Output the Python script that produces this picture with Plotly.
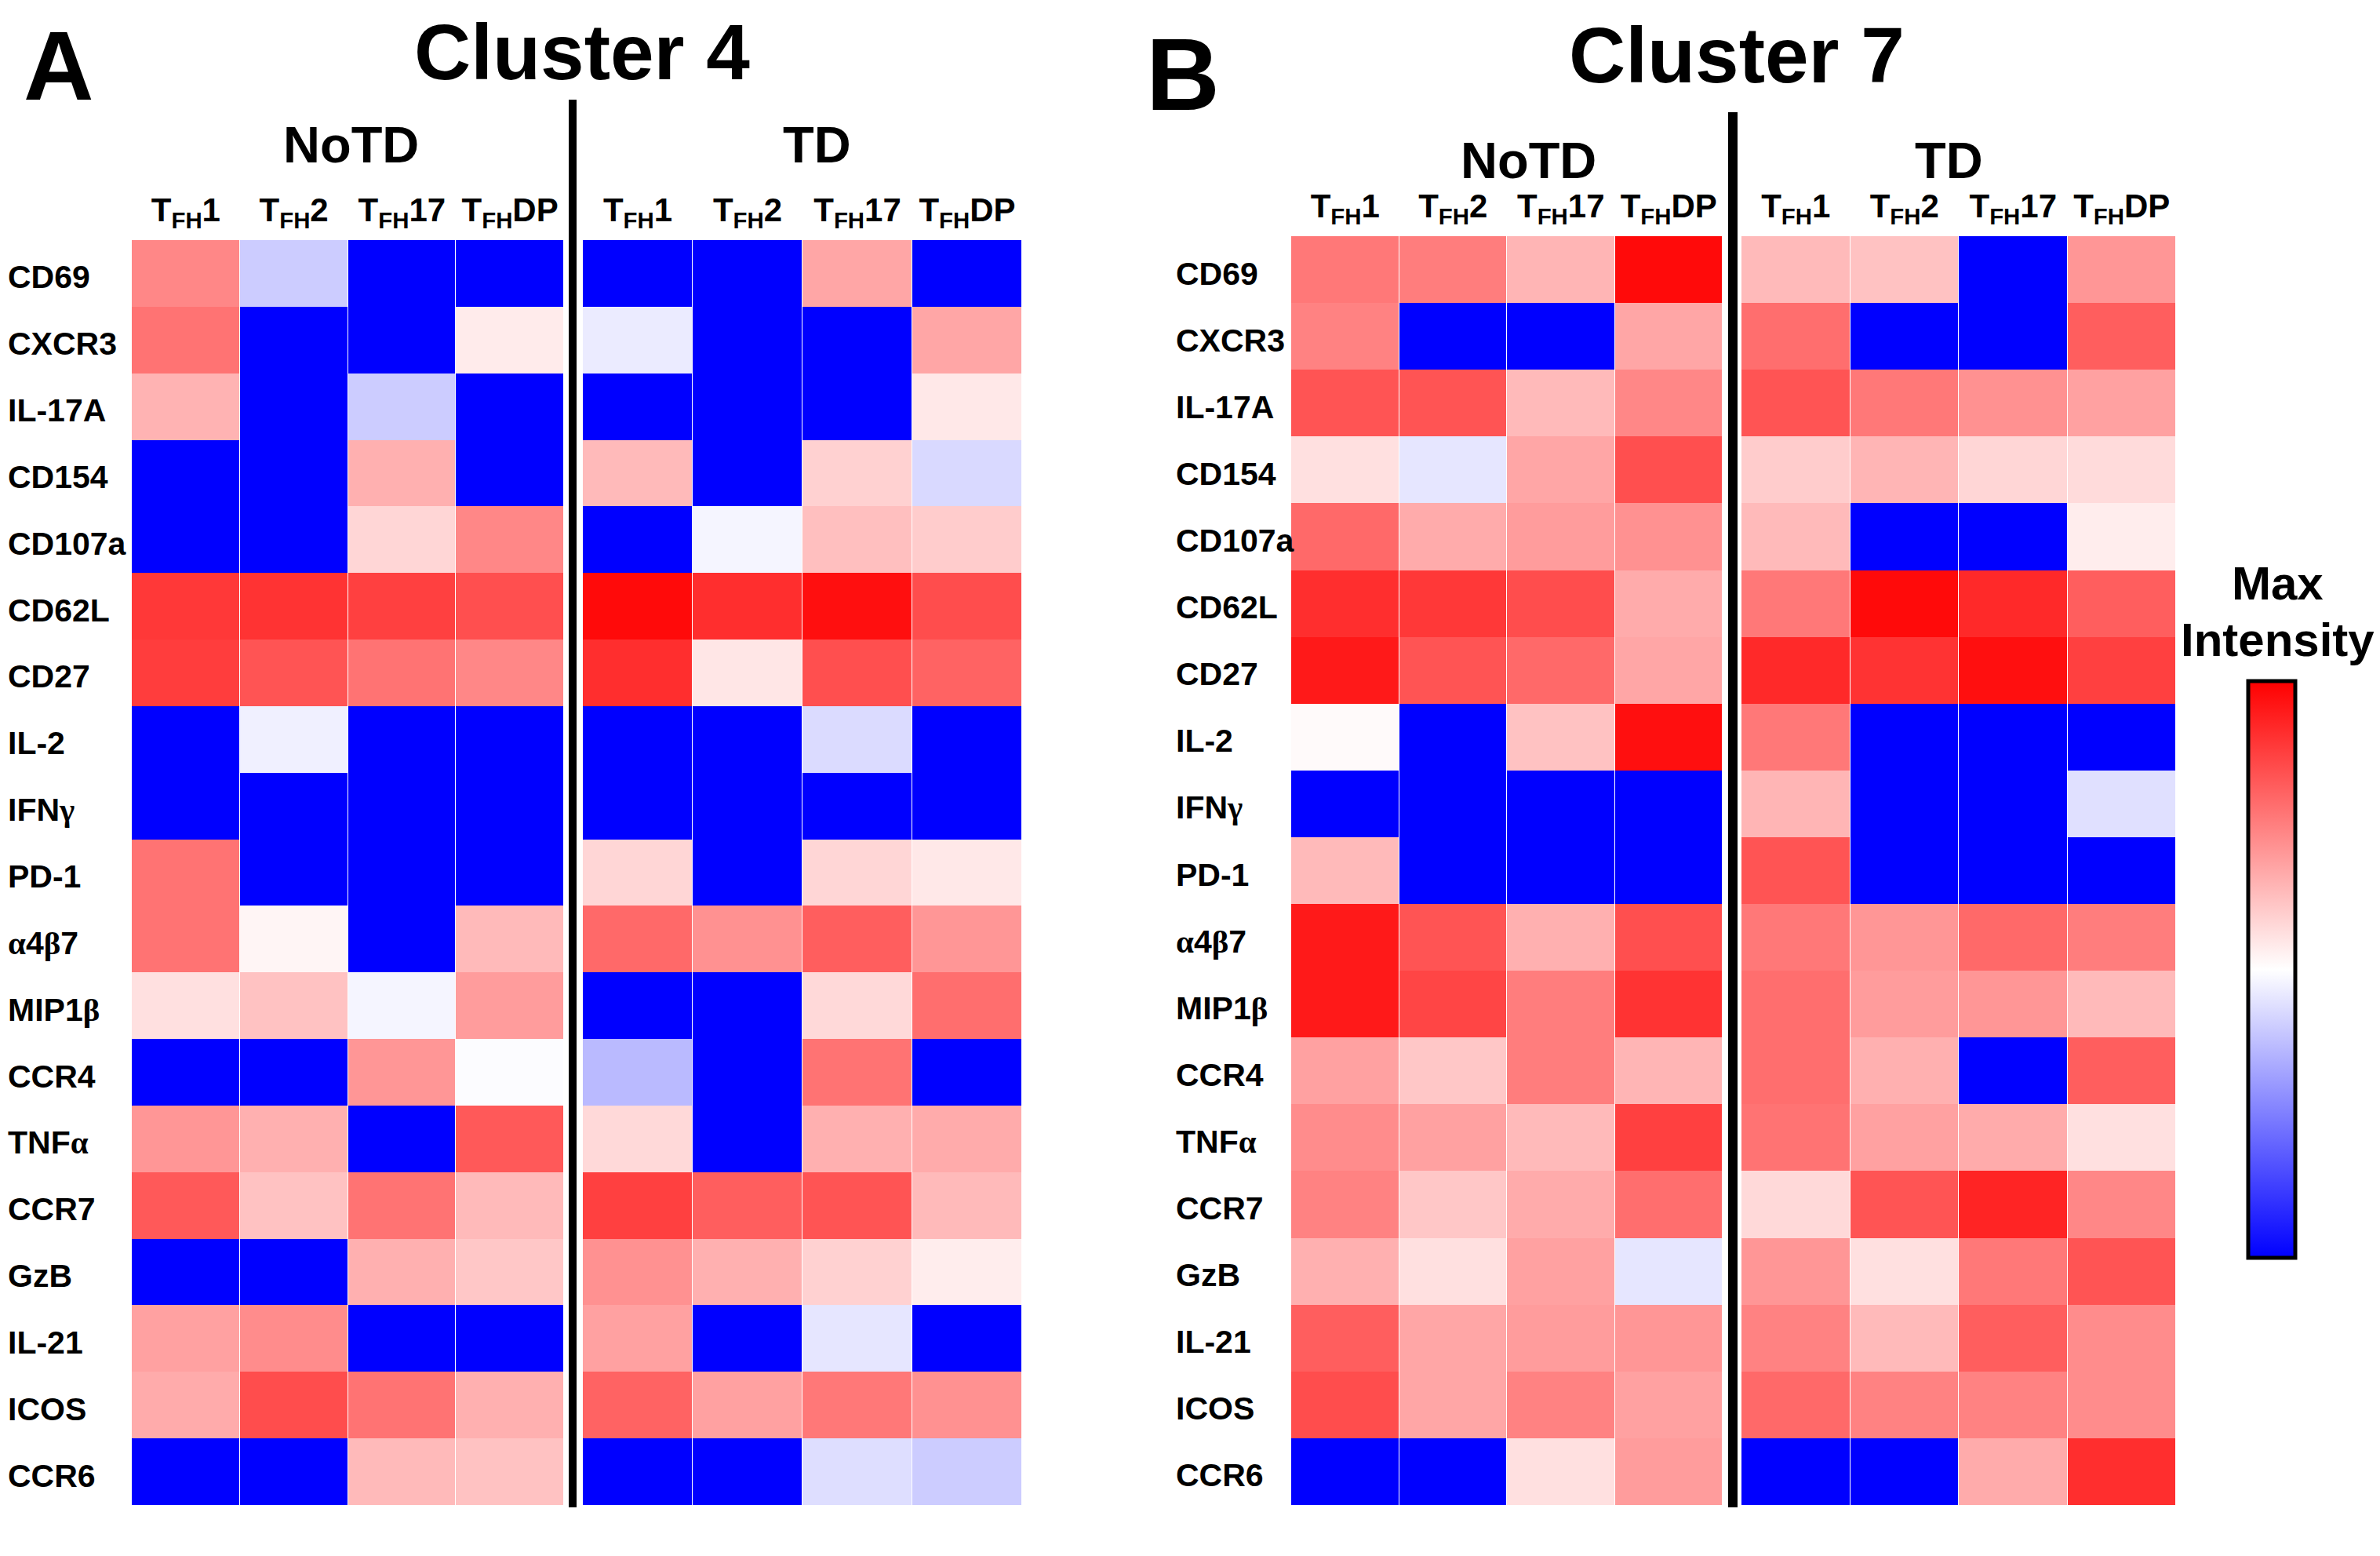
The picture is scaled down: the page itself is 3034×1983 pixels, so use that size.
import plotly.graph_objects as go

# page is 3034 x 1983; the html body adds an 8 px margin
PAGE_W, PAGE_H = 3034, 1983
OFF = 8
W, H = PAGE_W - 2 * OFF, PAGE_H - 2 * OFF

rows = ["CD69", "CXCR3", "IL-17A", "CD154", "CD107a", "CD62L", "CD27", "IL-2",
        "IFNγ", "PD-1", "α4β7", "MIP1β", "CCR4", "TNFα", "CCR7", "GzB",
        "IL-21", "ICOS", "CCR6"]

SERIF = "<span style='font-family:Liberation Serif'>{}</span>"
row_labels = ["CD69", "CXCR3", "IL-17A", "CD154", "CD107a", "CD62L", "CD27", "IL-2",
              "IFN" + SERIF.format("γ"), "PD-1",
              SERIF.format("α") + "4" + SERIF.format("β") + "7",
              "MIP1" + SERIF.format("β"), "CCR4",
              "TNF" + SERIF.format("α"), "CCR7", "GzB",
              "IL-21", "ICOS", "CCR6"]

cols = ["TFH1", "TFH2", "TFH17", "TFHDP"]
col_labels = ["T<sub>FH</sub>1", "T<sub>FH</sub>2", "T<sub>FH</sub>17", "T<sub>FH</sub>DP"]

# Cluster 4 (panel A), relative intensity (-1 = blue, 0 = white, 1 = red)
c4_notd = [
    [0.47, -0.20, -1.00, -1.00],
    [0.55, -1.00, -1.00, 0.08],
    [0.30, -1.00, -0.20, -1.00],
    [-1.00, -1.00, 0.31, -1.00],
    [-1.00, -1.00, 0.16, 0.47],
    [0.78, 0.80, 0.75, 0.69],
    [0.76, 0.67, 0.55, 0.47],
    [-1.00, -0.06, -1.00, -1.00],
    [-1.00, -1.00, -1.00, -1.00],
    [0.55, -1.00, -1.00, -1.00],
    [0.55, 0.04, -1.00, 0.27],
    [0.12, 0.24, -0.04, 0.39],
    [-1.00, -1.00, 0.41, -0.01],
    [0.41, 0.31, -1.00, 0.65],
    [0.65, 0.24, 0.55, 0.27],
    [-1.00, -1.00, 0.31, 0.22],
    [0.37, 0.45, -1.00, -1.00],
    [0.33, 0.70, 0.55, 0.31],
    [-1.00, -1.00, 0.27, 0.24],
]
c4_td = [
    [-1.00, -1.00, 0.35, -1.00],
    [-0.08, -1.00, -1.00, 0.35],
    [-1.00, -1.00, -1.00, 0.09],
    [0.27, -1.00, 0.18, -0.15],
    [-1.00, -0.04, 0.25, 0.20],
    [0.96, 0.82, 0.94, 0.70],
    [0.82, 0.10, 0.69, 0.61],
    [-1.00, -1.00, -0.14, -1.00],
    [-1.00, -1.00, -1.00, -1.00],
    [0.16, -1.00, 0.16, 0.09],
    [0.59, 0.43, 0.63, 0.41],
    [-1.00, -1.00, 0.15, 0.57],
    [-0.27, -1.00, 0.55, -1.00],
    [0.15, -1.00, 0.31, 0.33],
    [0.75, 0.63, 0.67, 0.27],
    [0.43, 0.31, 0.18, 0.07],
    [0.37, -1.00, -0.10, -1.00],
    [0.61, 0.37, 0.53, 0.43],
    [-1.00, -1.00, -0.13, -0.20],
]
# Cluster 7 (panel B)
c7_notd = [
    [0.53, 0.51, 0.29, 0.96],
    [0.49, -1.00, -1.00, 0.35],
    [0.67, 0.67, 0.27, 0.47],
    [0.12, -0.10, 0.35, 0.69],
    [0.59, 0.33, 0.39, 0.43],
    [0.82, 0.78, 0.70, 0.33],
    [0.90, 0.67, 0.59, 0.35],
    [0.02, -1.00, 0.24, 0.94],
    [-1.00, -1.00, -1.00, -1.00],
    [0.27, -1.00, -1.00, -1.00],
    [0.90, 0.67, 0.31, 0.69],
    [0.90, 0.73, 0.51, 0.80],
    [0.37, 0.22, 0.51, 0.29],
    [0.45, 0.37, 0.27, 0.75],
    [0.49, 0.22, 0.33, 0.57],
    [0.31, 0.12, 0.37, -0.10],
    [0.63, 0.35, 0.39, 0.41],
    [0.70, 0.35, 0.49, 0.37],
    [-1.00, -1.00, 0.12, 0.39],
]
c7_td = [
    [0.27, 0.24, -1.00, 0.41],
    [0.57, -1.00, -1.00, 0.63],
    [0.67, 0.53, 0.43, 0.37],
    [0.20, 0.29, 0.16, 0.14],
    [0.27, -1.00, -1.00, 0.07],
    [0.53, 0.96, 0.84, 0.63],
    [0.84, 0.80, 0.94, 0.75],
    [0.53, -1.00, -1.00, -1.00],
    [0.29, -1.00, -1.00, -0.12],
    [0.67, -1.00, -1.00, -1.00],
    [0.53, 0.41, 0.59, 0.51],
    [0.57, 0.39, 0.41, 0.27],
    [0.57, 0.31, -1.00, 0.63],
    [0.55, 0.37, 0.33, 0.12],
    [0.15, 0.67, 0.86, 0.47],
    [0.41, 0.12, 0.53, 0.67],
    [0.49, 0.27, 0.63, 0.45],
    [0.59, 0.49, 0.49, 0.45],
    [-1.00, -1.00, 0.33, 0.82],
]

FONT = "Liberation Sans, Arial, sans-serif"


def px(x):
    return (x - OFF) / W


def py(y):
    return 1 - (y - OFF) / H


fig = go.Figure()

panels = [
    (c4_notd, "x", "y"),
    (c4_td, "x2", "y"),
    (c7_notd, "x3", "y3"),
    (c7_td, "x4", "y3"),
]
for z, xa, ya in panels:
    fig.add_trace(go.Heatmap(z=z, x=cols, y=rows, xaxis=xa, yaxis=ya,
                             coloraxis="coloraxis", xgap=1, ygap=0,
                             hoverinfo="skip"))

xdomains = {
    "xaxis": ((168, 719), "y"),
    "xaxis2": ((743, 1303), "y"),
    "xaxis3": ((1646, 2196), "y3"),
    "xaxis4": ((2220, 2774), "y3"),
}
layout_axes = {}
for name, ((a, b), anchor) in xdomains.items():
    layout_axes[name] = dict(
        domain=[px(a), px(b)], anchor=anchor, side="top",
        tickmode="array", tickvals=cols, ticktext=col_labels,
        ticks="outside", ticklen=6, tickcolor="rgba(0,0,0,0)",
        tickfont=dict(family=FONT, size=42, color="black", weight="bold"),
        showgrid=False, zeroline=False, showline=False, fixedrange=True,
    )
layout_axes["yaxis"] = dict(domain=[py(1918), py(306)], anchor="x",
                            autorange="reversed", showticklabels=False,
                            ticks="", showgrid=False, zeroline=False)
layout_axes["yaxis3"] = dict(domain=[py(1918), py(301)], anchor="x3",
                             autorange="reversed", showticklabels=False,
                             ticks="", showgrid=False, zeroline=False)

annotations = []
# row labels, attached to the category axes
for yref, xpix in (("y", 8), ("y3", 1497)):
    for r, lab in zip(rows, row_labels):
        annotations.append(dict(
            text=lab, x=px(xpix), xref="paper", y=r, yref=yref,
            xanchor="left", yanchor="middle", showarrow=False, yshift=-5,
            font=dict(family=FONT, size=41, color="black", weight="bold")))


def txt(text, xc, yc, size):
    annotations.append(dict(
        text=text, x=px(xc), y=py(yc), xref="paper", yref="paper",
        xanchor="center", yanchor="middle", showarrow=False,
        font=dict(family=FONT, size=size, color="black", weight="bold")))


txt("A", 75, 84, 124)
txt("Cluster 4", 742, 66, 100)
txt("NoTD", 447, 184, 65)
txt("TD", 1041, 184, 65)
txt("B", 1508, 95, 130)
txt("Cluster 7", 2214, 70, 100)
txt("NoTD", 1948, 204, 65)
txt("TD", 2484, 204, 65)
txt("Max", 2903, 743, 60)
txt("Intensity", 2903, 815, 60)

shapes = [
    dict(type="line", xref="paper", yref="paper", x0=px(730), x1=px(730),
         y0=py(127), y1=py(1921), line=dict(color="black", width=10)),
    dict(type="line", xref="paper", yref="paper", x0=px(2209), x1=px(2209),
         y0=py(143), y1=py(1921), line=dict(color="black", width=12)),
]

fig.update_layout(
    width=W, height=H,
    margin=dict(l=0, r=0, t=0, b=0),
    paper_bgcolor="white", plot_bgcolor="white",
    coloraxis=dict(
        colorscale=[[0, "#0000FF"], [0.5, "#FFFFFF"], [1, "#FF0000"]],
        cmin=-1, cmax=1,
        colorbar=dict(
            x=px(2866), xanchor="left", xpad=0, ypad=0,
            y=py(868), yanchor="top", len=(1603 - 868) / H, lenmode="fraction",
            thickness=60, outlinewidth=5, outlinecolor="black",
            showticklabels=False, ticks="",
        ),
    ),
    annotations=annotations,
    shapes=shapes,
    showlegend=False,
    **layout_axes,
)

fig.write_html("out.html")
